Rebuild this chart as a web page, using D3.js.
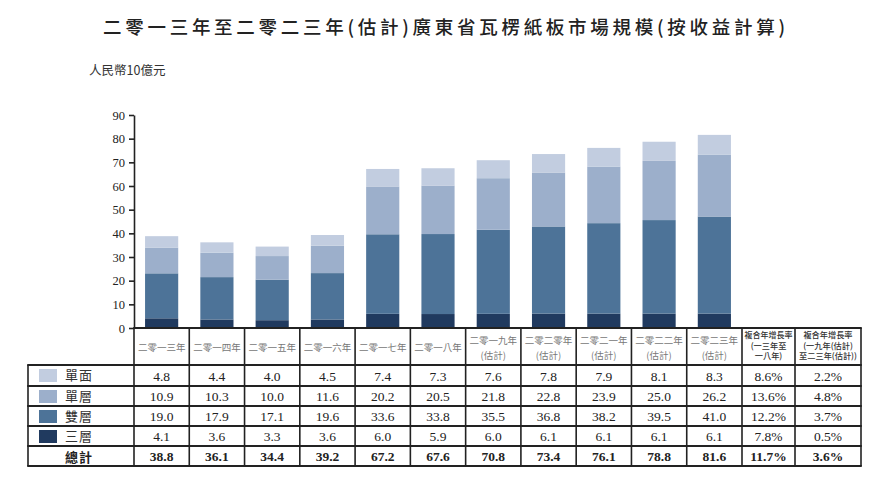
<!DOCTYPE html>
<html>
<head>
<meta charset="utf-8">
<script src="https://cdn.jsdelivr.net/npm/d3@7"></script>
<style>
  body { margin: 0; background: #fff; }
  svg { display: block; }
</style>
</head>
<body>
<script>
var years = ["二零一三年", "二零一四年", "二零一五年", "二零一六年", "二零一七年", "二零一八年",
    "二零一九年", "二零二零年", "二零二一年", "二零二二年", "二零二三年"];
var estimated = [false, false, false, false, false, false, true, true, true, true, true];

var seriesNames = ["單面", "單層", "雙層", "三層"];
var colors = ["#c2cde0", "#9cafcb", "#4d7398", "#203a5f"];

var singleFace = [4.8, 4.4, 4.0, 4.5, 7.4, 7.3, 7.6, 7.8, 7.9, 8.1, 8.3];
var singleWall = [10.9, 10.3, 10.0, 11.6, 20.2, 20.5, 21.8, 22.8, 23.9, 25.0, 26.2];
var doubleWall = [19.0, 17.9, 17.1, 19.6, 33.6, 33.8, 35.5, 36.8, 38.2, 39.5, 41.0];
var tripleWall = [4.1, 3.6, 3.3, 3.6, 6.0, 5.9, 6.0, 6.1, 6.1, 6.1, 6.1];
var totals = [38.8, 36.1, 34.4, 39.2, 67.2, 67.6, 70.8, 73.4, 76.1, 78.8, 81.6];

var cagr1 = ["8.6%", "13.6%", "12.2%", "7.8%", "11.7%"];
var cagr2 = ["2.2%", "4.8%", "3.7%", "0.5%", "3.6%"];
var cagrHeads = [["複合年增長率", "(一三年至", "一八年)"], ["複合年增長率", "(一九年(估計)", "至二三年(估計))"]];
var yTicks = [0, 10, 20, 30, 40, 50, 60, 70, 80, 90];

var CJK = '"Noto Sans CJK TC", "Noto Sans CJK SC", sans-serif';
var SERIF = '"Liberation Serif", "DejaVu Serif", serif';

var W = 876, H = 479;
var axisX = 134, yearRight = 742, cagrMid = 795, tableRight = 861, legendLeft = 28;
var headTop = 328, rowTops = [365, 386, 406, 426, 446], tableBottom = 466;

var svg = d3.select("body").append("svg").attr("width", W).attr("height", H);

// title
svg.append("text").attr("font-family", CJK)
    .attr("x", 103).attr("y", 34)
    .attr("textLength", 682).attr("lengthAdjust", "spacing")
    .attr("font-size", 18.5).attr("font-weight", 500).attr("fill", "#222")
    .text("二零一三年至二零二三年(估計)廣東省瓦楞紙板市場規模(按收益計算)");

svg.append("text").attr("font-family", CJK)
    .attr("x", 89).attr("y", 75).attr("font-size", 12.5).attr("fill", "#333")
    .text("人民幣10億元");

var x = d3.scaleBand().domain(years).range([axisX, yearRight]).paddingInner(0.4).paddingOuter(0.2);
var step = x.step();
var y = d3.scaleLinear().domain([0, 90]).range([headTop, 115]);

// stacked bars
var rows = years.map(function(d, i) {
    return { year: d, "三層": tripleWall[i], "雙層": doubleWall[i], "單層": singleWall[i], "單面": singleFace[i] };
});
var stackKeys = ["三層", "雙層", "單層", "單面"];
var stacked = d3.stack().keys(stackKeys)(rows);
var colorOf = d3.scaleOrdinal().domain(seriesNames).range(colors);

svg.append("g").selectAll("g")
    .data(stacked)
    .enter().append("g")
    .attr("fill", function(d) { return colorOf(d.key); })
    .selectAll("rect")
    .data(function(d) { return d; })
    .enter().append("rect")
    .attr("x", function(d) { return x(d.data.year); })
    .attr("y", function(d) { return y(d[1]); })
    .attr("width", x.bandwidth())
    .attr("height", function(d) { return y(d[0]) - y(d[1]); });

// y axis
var yAxis = svg.append("g")
    .attr("transform", "translate(" + axisX + ",0)")
    .call(d3.axisLeft(y).tickValues(yTicks).tickSize(5).tickSizeOuter(0).tickPadding(4));
yAxis.attr("font-family", SERIF).attr("font-size", 12.5);
yAxis.selectAll("text").attr("fill", "#222");
yAxis.selectAll("line, path").attr("stroke", "#222").attr("stroke-width", 1.6);

// table lines
var lines = svg.append("g").attr("stroke", "#222").attr("stroke-width", 1.6);
function hline(x1, x2, yy, w) {
    lines.append("line").attr("x1", x1).attr("x2", x2).attr("y1", yy).attr("y2", yy)
        .attr("stroke-width", w || 1.6);
}
function vline(xx, y1, y2) {
    lines.append("line").attr("x1", xx).attr("x2", xx).attr("y1", y1).attr("y2", y2);
}
hline(axisX - 0.8, tableRight + 0.8, headTop, 1.8);
rowTops.forEach(function(t, i) { hline(legendLeft - 0.8, tableRight + 0.8, t, i === 4 ? 2.2 : 1.8); });
hline(legendLeft - 0.8, tableRight + 0.8, tableBottom, 1.8);
vline(legendLeft, rowTops[0], tableBottom);
d3.range(years.length + 1).forEach(function(i) { vline(axisX + i * step, headTop, tableBottom); });
vline(cagrMid, headTop, tableBottom);
vline(tableRight, headTop, tableBottom);

// year header labels
var heads = svg.append("g").attr("font-family", CJK).attr("font-size", 9.5).attr("fill", "#777")
    .attr("text-anchor", "middle");
years.forEach(function(d, i) {
    var cx = x(d) + x.bandwidth() / 2;
    if (estimated[i]) {
        heads.append("text").attr("x", cx).attr("y", 344).text(d);
        heads.append("text").attr("x", cx).attr("y", 359).text("(估計)");
    } else {
        heads.append("text").attr("x", cx).attr("y", 351).text(d);
    }
});

// CAGR headers
var cagrCols = [[yearRight, cagrMid], [cagrMid, tableRight]];
cagrHeads.forEach(function(lns, c) {
    var cx = (cagrCols[c][0] + cagrCols[c][1]) / 2;
    var maxW = cagrCols[c][1] - cagrCols[c][0] - 5;
    lns.forEach(function(t, k) {
        var tx = svg.append("text").attr("font-family", CJK).attr("x", cx).attr("y", 338 + k * 10.5)
            .attr("text-anchor", "middle").attr("font-size", 8.2).attr("font-weight", 500)
            .attr("fill", "#333").text(t);
        var wNat = tx.node().getComputedTextLength();
        if (wNat > maxW) tx.attr("textLength", maxW).attr("lengthAdjust", "spacingAndGlyphs");
    });
});

// legend column
var tableSeries = [singleFace, singleWall, doubleWall, tripleWall];
seriesNames.forEach(function(name, r) {
    var t = rowTops[r];
    svg.append("rect").attr("x", 39).attr("y", t + 4).attr("width", 18).attr("height", 13)
        .attr("fill", colors[r]);
    svg.append("text").attr("font-family", CJK).attr("x", 65).attr("y", t + 15)
        .attr("font-size", 13).attr("fill", "#333").attr("letter-spacing", 1).text(name);
});
svg.append("text").attr("font-family", CJK).attr("x", 65).attr("y", rowTops[4] + 15.5)
    .attr("font-size", 13).attr("font-weight", 700).attr("fill", "#222").attr("letter-spacing", 1).text("總計");

// values
var cells = svg.append("g").attr("font-family", SERIF).attr("text-anchor", "middle").attr("fill", "#222");
function rowText(vals, r, bold, fmt) {
    var t = rowTops[r];
    var b = r < 4 ? rowTops[r + 1] : tableBottom;
    vals.forEach(function(v, i) {
        cells.append("text").attr("x", x(years[i]) + x.bandwidth() / 2).attr("y", (t + b) / 2 + 5)
            .attr("font-size", 13.5).attr("font-weight", bold ? 700 : 400).text(fmt(v));
    });
}
var f1 = d3.format(".1f");
tableSeries.forEach(function(vals, r) { rowText(vals, r, false, f1); });
rowText(totals, 4, true, f1);

[cagr1, cagr2].forEach(function(col, c) {
    var cx = (cagrCols[c][0] + cagrCols[c][1]) / 2;
    col.forEach(function(v, r) {
        var t = rowTops[r];
        var b = r < 4 ? rowTops[r + 1] : tableBottom;
        cells.append("text").attr("x", cx).attr("y", (t + b) / 2 + 5)
            .attr("font-size", 13.5).attr("font-weight", r === 4 ? 700 : 400).text(v);
    });
});
</script>
</body>
</html>
